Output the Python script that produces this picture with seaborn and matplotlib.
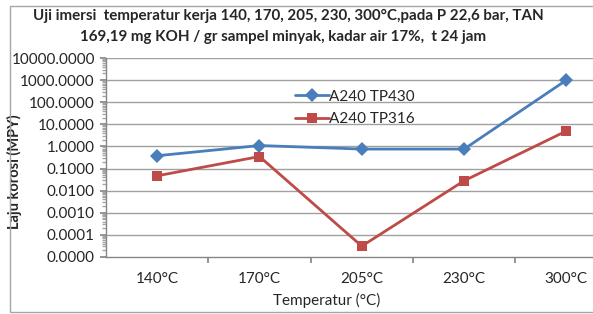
import numpy as np
import pandas as pd
import matplotlib
matplotlib.use("Agg")
import matplotlib.pyplot as plt
import seaborn as sns
from matplotlib.ticker import FixedLocator, FuncFormatter, LogLocator, NullFormatter
from matplotlib.patches import Rectangle

# data
temperatur = ['140°C', '170°C', '205°C', '230°C', '300°C']
tp430 = [0.38, 1.1, 0.76, 0.76, 1000.0]
tp316 = [0.047, 0.35, 0.000031, 0.028, 5.0]

df = pd.DataFrame({
    'pos': list(range(len(temperatur))) * 2,
    'laju': tp430 + tp316,
    'seri': ['A240 TP430'] * 5 + ['A240 TP316'] * 5,
})

sns.set_theme(style="white")
plt.rcParams['font.family'] = ['Lato', 'DejaVu Sans']

fig = plt.figure(figsize=(5.93, 3.14), dpi=100)
ax = fig.add_axes([106 / 593, 1 - 257 / 314, 1 - 106 / 593, 199 / 314])

warna = {'A240 TP430': '#4A7EBB', 'A240 TP316': '#BE4B48'}
sns.lineplot(data=df, x='pos', y='laju', hue='seri', style='seri',
             markers={'A240 TP430': 'D', 'A240 TP316': 's'}, dashes=False,
             palette=warna, markersize=7, linewidth=2, markeredgewidth=0, ax=ax)

ax.set_yscale('log')
ax.set_ylim(1e-5, 1e4)
ax.set_xlim(-0.5, 4.26)

# garis grid
for v in [10.0 ** k for k in range(-4, 5)]:
    ax.axhline(v, color='#A0A0A0', lw=1, zorder=0)

ax.yaxis.set_major_locator(FixedLocator([10.0 ** k for k in range(-5, 5)]))
ax.yaxis.set_major_formatter(FuncFormatter(lambda v, p: f'{v:.4f}'))
ax.yaxis.set_minor_locator(LogLocator(base=10, subs=np.arange(2, 10), numticks=100))
ax.yaxis.set_minor_formatter(NullFormatter())
ax.tick_params(axis='y', which='major', length=4, color='#868686', labelsize=11, pad=4, left=True)
ax.tick_params(axis='y', which='minor', length=3, color='#A6A6A6', left=True)

# tick di batas kategori, label di tengah
ax.set_xticks([0.5, 1.5, 2.5, 3.5], minor=False)
ax.set_xticklabels([])
ax.set_xticks(range(len(temperatur)), minor=True)
ax.set_xticklabels(temperatur, minor=True)
ax.tick_params(axis='x', which='major', length=4, color='#868686', bottom=True)
ax.tick_params(axis='x', which='minor', length=0, labelsize=11, pad=11)

for s in ['top', 'right']:
    ax.spines[s].set_visible(False)
for s in ['left', 'bottom']:
    ax.spines[s].set_color('#868686')
    ax.spines[s].set_linewidth(1)

ax.set_xlabel('Temperatur (°C)', fontsize=11)
ax.xaxis.set_label_coords(0.454, -0.183)
ax.set_ylabel('Laju korosi (MPY)', fontsize=10.5, fontweight='bold')
ax.yaxis.set_label_coords(-0.172, 0.43)

leg = ax.legend(loc='upper left', bbox_to_anchor=(0.36, 0.91), frameon=False,
                fontsize=11, handlelength=2.2, labelspacing=0.55, handletextpad=0.0)

fig.text(33 / 593, 1 - 16 / 314, 'Uji imersi  temperatur kerja 140, 170, 205, 230, 300°C,pada P 22,6 bar, TAN',
         ha='left', va='center', fontsize=10.9, fontweight='bold')
fig.text(80 / 593, 1 - 37 / 314, '169,19 mg KOH / gr sampel minyak, kadar air 17%,  t 24 jam',
         ha='left', va='center', fontsize=10.9, fontweight='bold')

fig.patches.append(Rectangle((10 / 593, 2 / 314), 1.2, 1 - 8 / 314, transform=fig.transFigure,
                             fill=False, edgecolor='#A6A6A6', lw=1))

fig.savefig('out.png', dpi=100)
